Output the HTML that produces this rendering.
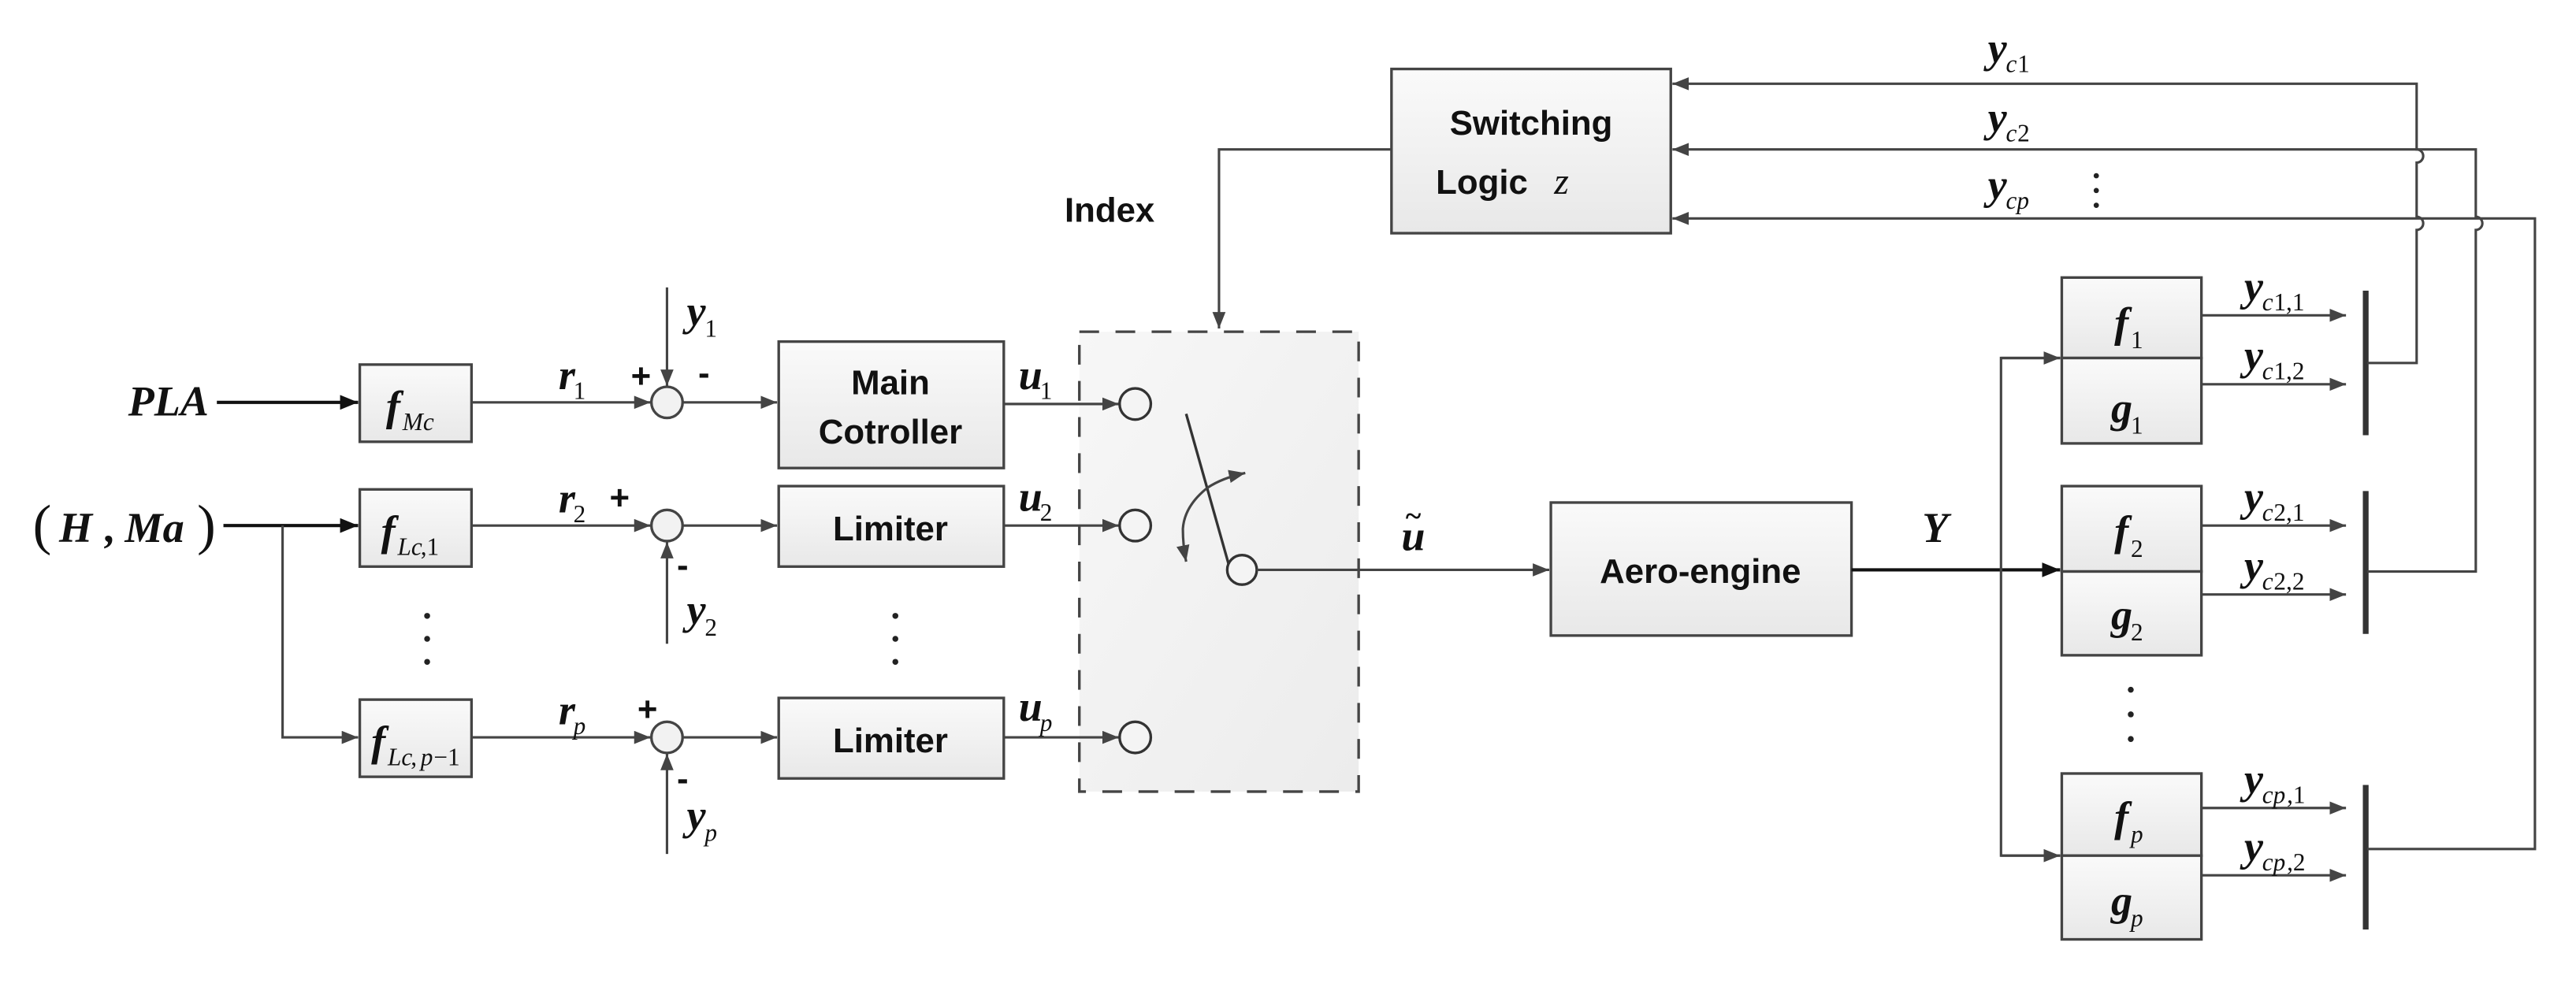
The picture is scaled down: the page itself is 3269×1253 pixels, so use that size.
<!DOCTYPE html>
<html><head><meta charset="utf-8"><style>
html,body{margin:0;padding:0;background:#fff}
svg{display:block}
.b{fill:url(#g);stroke:#444;stroke-width:1.6}
.l{stroke:#444;stroke-width:1.5;fill:none}
.t{font-family:"Liberation Sans",sans-serif;font-weight:bold;font-size:21px;fill:#111}
.m{font-family:"Liberation Serif",serif;font-style:italic;font-weight:bold;font-size:26px;fill:#111}
.s{font-family:"Liberation Serif",serif;font-style:italic;font-size:15px;fill:#111;font-weight:normal}
.n{font-family:"Liberation Serif",serif;font-style:normal;font-size:15px;fill:#111;font-weight:normal}
</style></head><body>
<svg width="3269" height="1253" viewBox="0 0 1568 601" preserveAspectRatio="none" xmlns="http://www.w3.org/2000/svg">
<defs>
<linearGradient id="g" x1="0" y1="0" x2="0" y2="1"><stop offset="0" stop-color="#fafafa"/><stop offset="1" stop-color="#e8e8e8"/></linearGradient>
<linearGradient id="gd" x1="0" y1="0" x2="1" y2="1"><stop offset="0" stop-color="#f7f7f7"/><stop offset="1" stop-color="#ececec"/></linearGradient>
<marker id="a" markerWidth="10" markerHeight="8" refX="10" refY="4" orient="auto" markerUnits="userSpaceOnUse"><path d="M0,0 L10,4 L0,8 Z" fill="#444"/></marker>
<marker id="ak" markerWidth="11" markerHeight="9" refX="11" refY="4.5" orient="auto" markerUnits="userSpaceOnUse"><path d="M0,0 L11,4.5 L0,9 Z" fill="#111"/></marker>
</defs>

<rect x="657" y="202" width="170" height="280" fill="url(#gd)" stroke="#444" stroke-width="1.6" stroke-dasharray="12,10"/>

<text x="78" y="253" class="m">PLA</text>
<line x1="132" y1="245" x2="218" y2="245" stroke="#111" stroke-width="2" marker-end="url(#ak)"/>
<text x="20" y="331" class="m" style="font-weight:normal;font-style:normal;font-size:34px">(</text>
<text x="36" y="330" class="m">H</text><text x="64" y="330" class="m">,</text><text x="76" y="330" class="m">Ma</text>
<text x="120" y="331" class="m" style="font-weight:normal;font-style:normal;font-size:34px">)</text>
<line x1="136" y1="320" x2="218" y2="320" stroke="#111" stroke-width="2" marker-end="url(#ak)"/>
<polyline points="172,320 172,449 218,449" class="l" marker-end="url(#a)"/>

<rect x="219" y="222" width="68" height="47" class="b"/>
<text x="235" y="256" class="m">f</text><text x="245" y="262" class="s">Mc</text>
<rect x="219" y="298" width="68" height="47" class="b"/>
<text x="232" y="332" class="m">f</text><text x="242" y="338" class="s">Lc</text><text x="256" y="338" class="n">,1</text>
<rect x="219" y="426" width="68" height="47" class="b"/>
<text x="226" y="460" class="m">f</text><text x="236" y="466" class="s">Lc</text><text x="250" y="466" class="n">,</text><text x="256" y="466" class="s">p</text><text x="264" y="466" class="n">−1</text>
<circle cx="260" cy="375" r="1.8" fill="#222"/><circle cx="260" cy="389" r="1.8" fill="#222"/><circle cx="260" cy="403" r="1.8" fill="#222"/>

<line x1="287" y1="245" x2="396" y2="245" class="l" marker-end="url(#a)"/>
<line x1="287" y1="320" x2="396" y2="320" class="l" marker-end="url(#a)"/>
<line x1="287" y1="449" x2="396" y2="449" class="l" marker-end="url(#a)"/>
<text x="340" y="237" class="m">r</text><text x="349" y="243" class="n">1</text>
<text x="340" y="312" class="m">r</text><text x="349" y="318" class="n">2</text>
<text x="340" y="441" class="m">r</text><text x="349" y="447" class="s">p</text>
<circle cx="406" cy="245" r="9.5" fill="#f2f2f2" stroke="#444" stroke-width="1.6"/>
<circle cx="406" cy="320" r="9.5" fill="#f2f2f2" stroke="#444" stroke-width="1.6"/>
<circle cx="406" cy="449" r="9.5" fill="#f2f2f2" stroke="#444" stroke-width="1.6"/>
<line x1="406" y1="175" x2="406" y2="235" class="l" marker-end="url(#a)"/>
<line x1="406" y1="392" x2="406" y2="330" class="l" marker-end="url(#a)"/>
<line x1="406" y1="520" x2="406" y2="459" class="l" marker-end="url(#a)"/>
<text x="418" y="198" class="m">y</text><text x="429" y="205" class="n">1</text>
<text x="418" y="380" class="m">y</text><text x="429" y="387" class="n">2</text>
<text x="418" y="505" class="m">y</text><text x="429" y="512" class="s">p</text>
<text x="384" y="236" class="t">+</text><text x="425" y="234" class="t">-</text>
<text x="371" y="310" class="t">+</text><text x="412" y="351" class="t">-</text>
<text x="388" y="439" class="t">+</text><text x="412" y="481" class="t">-</text>

<line x1="416" y1="245" x2="473" y2="245" class="l" marker-end="url(#a)"/>
<line x1="416" y1="320" x2="473" y2="320" class="l" marker-end="url(#a)"/>
<line x1="416" y1="449" x2="473" y2="449" class="l" marker-end="url(#a)"/>
<rect x="474" y="208" width="137" height="77" class="b"/>
<text x="542" y="240" class="t" text-anchor="middle">Main</text>
<text x="542" y="270" class="t" text-anchor="middle">Cotroller</text>
<rect x="474" y="296" width="137" height="49" class="b"/>
<text x="542" y="329" class="t" text-anchor="middle">Limiter</text>
<rect x="474" y="425" width="137" height="49" class="b"/>
<text x="542" y="458" class="t" text-anchor="middle">Limiter</text>
<circle cx="545" cy="375" r="1.8" fill="#222"/><circle cx="545" cy="389" r="1.8" fill="#222"/><circle cx="545" cy="403" r="1.8" fill="#222"/>

<line x1="611" y1="246" x2="681" y2="246" class="l" marker-end="url(#a)"/>
<line x1="611" y1="320" x2="681" y2="320" class="l" marker-end="url(#a)"/>
<line x1="611" y1="449" x2="681" y2="449" class="l" marker-end="url(#a)"/>
<text x="620" y="237" class="m">u</text><text x="633" y="243" class="n">1</text>
<text x="620" y="311" class="m">u</text><text x="633" y="317" class="n">2</text>
<text x="620" y="439" class="m">u</text><text x="633" y="445" class="s">p</text>
<circle cx="691" cy="246" r="9.5" fill="#f4f4f4" stroke="#333" stroke-width="1.6"/>
<circle cx="691" cy="320" r="9.5" fill="#f4f4f4" stroke="#333" stroke-width="1.6"/>
<circle cx="691" cy="449" r="9.5" fill="#f4f4f4" stroke="#333" stroke-width="1.6"/>

<line x1="722" y1="252" x2="748" y2="344" stroke="#333" stroke-width="1.6"/>
<circle cx="756" cy="347" r="9" fill="#f4f4f4" stroke="#333" stroke-width="1.6"/>
<path d="M735,297 Q721,308 720,322 Q720,332 722,342" class="l" marker-end="url(#a)"/>
<path d="M735,297 Q744,291 758,288" class="l" marker-end="url(#a)"/>
<line x1="765" y1="347" x2="943" y2="347" class="l" marker-end="url(#a)"/>
<text x="853" y="335" class="m">u</text><text x="855" y="320" class="m" style="font-size:18px">~</text>

<rect x="944" y="306" width="183" height="81" class="b"/>
<text x="1035" y="355" class="t" text-anchor="middle">Aero-engine</text>
<text x="1170" y="330" class="m">Y</text>
<line x1="1127" y1="347" x2="1254" y2="347" stroke="#111" stroke-width="2" marker-end="url(#ak)"/>
<polyline points="1254,218 1218,218 1218,521 1254,521" class="l"/>
<line x1="1218" y1="218" x2="1254" y2="218" class="l" marker-end="url(#a)"/>
<line x1="1218" y1="521" x2="1254" y2="521" class="l" marker-end="url(#a)"/>

<rect x="1255" y="169" width="85" height="49" class="b"/><rect x="1255" y="218" width="85" height="52" class="b"/>
<rect x="1255" y="296" width="85" height="52" class="b"/><rect x="1255" y="348" width="85" height="51" class="b"/>
<rect x="1255" y="471" width="85" height="50" class="b"/><rect x="1255" y="521" width="85" height="51" class="b"/>
<text x="1287" y="205" class="m">f</text><text x="1297" y="212" class="n">1</text>
<text x="1285" y="257" class="m">g</text><text x="1297" y="264" class="n">1</text>
<text x="1287" y="332" class="m">f</text><text x="1297" y="339" class="n">2</text>
<text x="1285" y="383" class="m">g</text><text x="1297" y="390" class="n">2</text>
<text x="1287" y="506" class="m">f</text><text x="1297" y="513" class="s">p</text>
<text x="1285" y="557" class="m">g</text><text x="1297" y="564" class="s">p</text>
<circle cx="1297" cy="420" r="1.8" fill="#222"/><circle cx="1297" cy="435" r="1.8" fill="#222"/><circle cx="1297" cy="450" r="1.8" fill="#222"/>

<line x1="1340" y1="192" x2="1428" y2="192" class="l" marker-end="url(#a)"/>
<line x1="1340" y1="234" x2="1428" y2="234" class="l" marker-end="url(#a)"/>
<line x1="1340" y1="320" x2="1428" y2="320" class="l" marker-end="url(#a)"/>
<line x1="1340" y1="362" x2="1428" y2="362" class="l" marker-end="url(#a)"/>
<line x1="1340" y1="492" x2="1428" y2="492" class="l" marker-end="url(#a)"/>
<line x1="1340" y1="533" x2="1428" y2="533" class="l" marker-end="url(#a)"/>
<text x="1366" y="183" class="m">y</text><text x="1377" y="189" class="s">c</text><text x="1384" y="189" class="n">1,1</text>
<text x="1366" y="225" class="m">y</text><text x="1377" y="231" class="s">c</text><text x="1384" y="231" class="n">1,2</text>
<text x="1366" y="311" class="m">y</text><text x="1377" y="317" class="s">c</text><text x="1384" y="317" class="n">2,1</text>
<text x="1366" y="353" class="m">y</text><text x="1377" y="359" class="s">c</text><text x="1384" y="359" class="n">2,2</text>
<text x="1366" y="483" class="m">y</text><text x="1377" y="489" class="s">cp</text><text x="1392" y="489" class="n">,1</text>
<text x="1366" y="524" class="m">y</text><text x="1377" y="530" class="s">cp</text><text x="1392" y="530" class="n">,2</text>
<line x1="1440" y1="177" x2="1440" y2="265" stroke="#333" stroke-width="3.5"/>
<line x1="1440" y1="299" x2="1440" y2="386" stroke="#333" stroke-width="3.5"/>
<line x1="1440" y1="478" x2="1440" y2="566" stroke="#333" stroke-width="3.5"/>

<path d="M1441,221 H1471 V140 a4,4 0 0 0 0,-8 V99 a4,4 0 0 0 0,-8 V51 H1018" class="l" marker-end="url(#a)"/>
<path d="M1441,348 H1507 V140 a4,4 0 0 0 0,-8 V91 H1018" class="l" marker-end="url(#a)"/>
<path d="M1441,517 H1543 V133 H1018" class="l" marker-end="url(#a)"/>

<rect x="847" y="42" width="170" height="100" class="b"/>
<text x="932" y="82" class="t" text-anchor="middle">Switching</text>
<text x="902" y="118" class="t" text-anchor="middle">Logic</text>
<text x="946" y="118" class="m" style="font-weight:normal;font-size:23px">z</text>
<text x="1210" y="38" class="m">y</text><text x="1221" y="44" class="s">c</text><text x="1228" y="44" class="n">1</text>
<text x="1210" y="80" class="m">y</text><text x="1221" y="86" class="s">c</text><text x="1228" y="86" class="n">2</text>
<text x="1210" y="121" class="m">y</text><text x="1221" y="127" class="s">cp</text>
<circle cx="1276" cy="107" r="1.6" fill="#222"/><circle cx="1276" cy="116" r="1.6" fill="#222"/><circle cx="1276" cy="125" r="1.6" fill="#222"/>

<polyline points="847,91 742,91 742,200" class="l" marker-end="url(#a)"/>
<text x="648" y="135" class="t">Index</text>
</svg>
</body></html>
